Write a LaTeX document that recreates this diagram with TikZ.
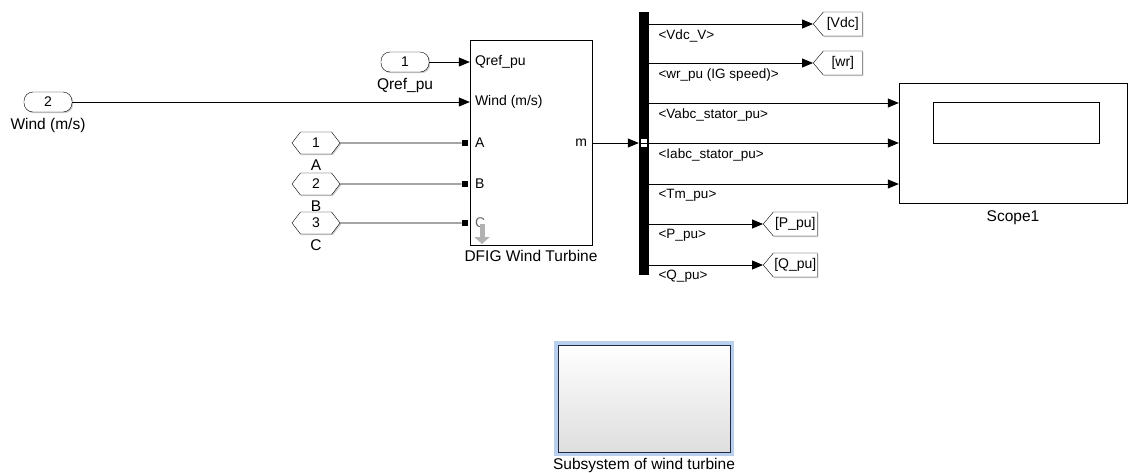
\documentclass[tikz,border=0pt]{standalone}
\usepackage{fontspec}
\setmainfont{Liberation Sans}
\usetikzlibrary{positioning,arrows.meta,shapes.symbols,shadows}

\definecolor{hlblue}{RGB}{184,208,238}
\definecolor{subedge}{RGB}{30,42,68}

\begin{document}
\begin{tikzpicture}[
  x=1pt, y=-1pt,
  font=\fontsize{14}{16}\selectfont,
  shade/.style={drop shadow={shadow xshift=1.2pt, shadow yshift=-1.2pt, fill=black!40}},
  inport/.style={draw, rounded corners=9pt, minimum width=48pt, minimum height=20pt, inner sep=0pt, fill=white, shade},
  connport/.style={draw, signal, signal to=east and west, signal pointer angle=105, minimum width=48pt, minimum height=22pt, inner sep=0pt, fill=white, shade},
  gototag/.style={draw, signal, signal to=west, signal pointer angle=100, minimum height=24pt, inner sep=0pt, fill=white, shade},
  block/.style={draw, fill=white, inner sep=0pt, shade},
  blockname/.style={font=\fontsize{15.5}{17}\selectfont, inner sep=0pt},
  portname/.style={font=\fontsize{14}{16}\selectfont, anchor=west, inner sep=0pt, xshift=5pt},
  siglabel/.style={font=\fontsize{13.5}{15}\selectfont, anchor=north west, inner sep=0pt},
  pterm/.style={fill=black, minimum size=6.5pt, inner sep=0pt},
  sig/.style={-{Triangle[length=11pt,width=9pt]}, line width=0.8pt},
  phys/.style={line width=0.8pt}
]
\useasboundingbox (0,0) rectangle (1129,472);

% inputs
\node[inport] (wind) at (48,102) {2};
\node[blockname, below=6pt of wind] (windlbl) {Wind (m/s)};
\node[inport] (qref) at (405,62) {1};
\node[blockname, below=6pt of qref] (qreflbl) {Qref\_pu};
\node[connport] (portA) at (316,143) {1};
\node[connport] (portB) at (316,184) {2};
\node[connport] (portC) at (316,223) {3};
\node[blockname, below=5pt of portA] {A};
\node[blockname, below=5pt of portB] {B};
\node[blockname, below=5pt of portC] {C};

% DFIG block
\node[block, minimum width=122pt, minimum height=205pt] (dfig) at (531,142.5) {};
\node[blockname, below=5pt of dfig] {DFIG Wind Turbine};
\node[portname] at (dfig.west |- qref) {Qref\_pu};
\node[portname] at (dfig.west |- wind) {Wind (m/s)};
\node[pterm] (sqA) at (465,143) {};
\node[pterm] (sqB) at (465,184) {};
\node[pterm] (sqC) at (465,223) {};
\node[portname] at (dfig.west |- sqA) {A};
\node[portname] at (dfig.west |- sqB) {B};
\node[portname, text=black!60] at (dfig.west |- sqC) {C};
\draw[-{Triangle[length=7pt,width=15pt]}, line width=5pt, black!30] (482,224) -- (482,244);
\node[portname, anchor=east, xshift=-10pt] at (dfig.east |- sqA) {m};

% bus selector
\node[fill=black, minimum width=10pt, minimum height=263pt, inner sep=0pt] (bus) at (644,143.5) {};
\node[draw, fill=white, minimum width=7pt, minimum height=9pt, inner sep=0pt] (busin) at (bus.center |- sqA) {};
\draw[line width=0.6pt] (busin.west) -- (busin.east);

% goto tags and scope
\node[gototag, minimum width=49pt, anchor=west] (vdc) at (813,24) {[Vdc]};
\node[gototag, minimum width=49pt, anchor=west] (wr) at (813,63) {[wr]};
\node[gototag, minimum width=54pt, anchor=west] (ppu) at (763,224) {[P\_pu]};
\node[gototag, minimum width=54pt, anchor=west] (qpu) at (763,265) {[Q\_pu]};
\node[block, minimum width=228pt, minimum height=120pt] (scope) at (1013,143) {};
\node[draw, minimum width=166pt, minimum height=41pt, inner sep=0pt] (screen) at (1016,122.5) {};
\node[blockname, below=7pt of scope] {Scope1};
\coordinate (sc1) at (scope.west |- 0,103);
\coordinate (sc2) at (scope.west |- 0,143);
\coordinate (sc3) at (scope.west |- 0,184);

% subsystem
\node[draw=subedge, line width=1pt, top color=white, bottom color=black!13, minimum width=172pt, minimum height=107pt, inner sep=0pt, preaction={draw=hlblue, line width=8pt}] (subsys) at (644,398.5) {};
\node[blockname, below=6pt of subsys] {Subsystem of wind turbine};

% connections
\draw[sig] (qref) -- (qref -| dfig.west);
\draw[sig] (wind) -- (wind -| dfig.west);
\draw[phys] (portA) -- (sqA);
\draw[phys] (portB) -- (sqB);
\draw[phys] (portC) -- (sqC);
\draw[sig] (dfig.east |- sqA) -- (bus.west |- sqA);
\draw[sig] (bus.east |- vdc.west) -- (vdc.west) node[siglabel, pos=0, xshift=9pt, yshift=-5pt] {<Vdc\_V>};
\draw[sig] (bus.east |- wr.west) -- (wr.west) node[siglabel, pos=0, xshift=9pt, yshift=-5pt] {<wr\_pu (IG speed)>};
\draw[sig] (bus.east |- sc1) -- (sc1) node[siglabel, pos=0, xshift=9pt, yshift=-5pt] {<Vabc\_stator\_pu>};
\draw[sig] (bus.east |- sc2) -- (sc2) node[siglabel, pos=0, xshift=9pt, yshift=-5pt] {<Iabc\_stator\_pu>};
\draw[sig] (bus.east |- sc3) -- (sc3) node[siglabel, pos=0, xshift=9pt, yshift=-5pt] {<Tm\_pu>};
\draw[sig] (bus.east |- ppu.west) -- (ppu.west) node[siglabel, pos=0, xshift=9pt, yshift=-5pt] {<P\_pu>};
\draw[sig] (bus.east |- qpu.west) -- (qpu.west) node[siglabel, pos=0, xshift=9pt, yshift=-5pt] {<Q\_pu>};
\end{tikzpicture}
\end{document}
